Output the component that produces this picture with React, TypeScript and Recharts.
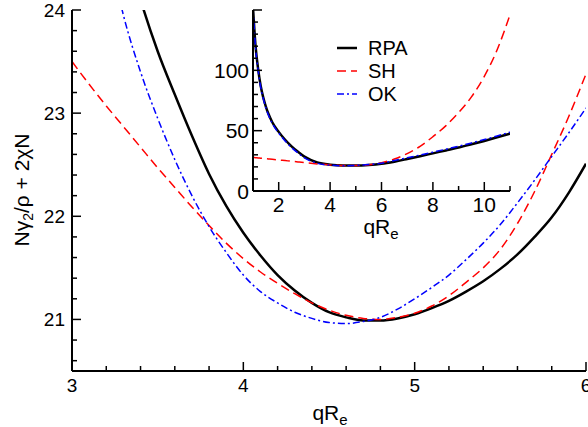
import React from "react";
import { LineChart, Line, XAxis, YAxis, CartesianGrid, Legend } from "recharts";

const FONT = "'Liberation Sans', Arial, Helvetica, sans-serif";

// main panel, qRe from 3 to 6
const qMain = [3.0, 3.1, 3.2, 3.3, 3.4, 3.5, 3.6, 3.7, 3.8, 3.9, 4.0, 4.1, 4.2, 4.3, 4.4, 4.5, 4.6, 4.7, 4.8, 4.9, 5.0, 5.1, 5.2, 5.3, 5.4, 5.5, 5.6, 5.7, 5.8, 5.9, 6.0];
const rpaMain = [27.5, 26.4, 25.45, 24.7, 24.1, 23.6, 23.18, 22.78, 22.41, 22.1, 21.84, 21.62, 21.43, 21.28, 21.16, 21.07, 21.02, 20.99, 20.99, 21.01, 21.05, 21.11, 21.18, 21.27, 21.37, 21.49, 21.63, 21.8, 21.99, 22.23, 22.51];
const shMain = [23.5, 23.28, 23.07, 22.87, 22.67, 22.47, 22.28, 22.09, 21.91, 21.74, 21.59, 21.46, 21.35, 21.25, 21.16, 21.09, 21.04, 21.01, 21.0, 21.02, 21.06, 21.13, 21.23, 21.36, 21.5, 21.68, 21.93, 22.24, 22.6, 22.97, 23.38];
const okMain = [26.6, 25.6, 24.7, 23.95, 23.4, 22.95, 22.55, 22.2, 21.9, 21.65, 21.43, 21.27, 21.16, 21.07, 21.01, 20.97, 20.96, 20.98, 21.02, 21.1, 21.2, 21.31, 21.43, 21.58, 21.74, 21.92, 22.13, 22.35, 22.58, 22.81, 23.05];

const mainXTicks = [3, 3.2, 3.4, 3.6, 3.8, 4, 4.2, 4.4, 4.6, 4.8, 5, 5.2, 5.4, 5.6, 5.8, 6];
const mainXLabels = [3, 4, 5, 6];
const mainYTicks = [20.6, 20.8, 21, 21.2, 21.4, 21.6, 21.8, 22, 22.2, 22.4, 22.6, 22.8, 23, 23.2, 23.4, 23.6, 23.8, 24];
const mainYLabels = [21, 22, 23, 24];

// inset, qRe from 1 to 11
const qInset = [1, 1.1, 1.2, 1.3, 1.4, 1.5, 1.6, 1.75, 2, 2.25, 2.5, 2.75, 3, 3.5, 4, 4.5, 5, 5.5, 6, 6.5, 7, 7.5, 8, 8.5, 9, 9.5, 10, 10.5, 11];
const rpaInset = [152, 120, 101, 87, 77.5, 70, 64, 57, 49, 42.5, 37, 32.5, 28.5, 23.7, 21.8, 21.1, 21.05, 21.5, 22.5, 24.3, 26.5, 28.8, 31.2, 33.6, 36, 38.7, 41.5, 44.5, 47.5];
const shInset = [27.8, 27.6, 27.4, 27.2, 27.0, 26.8, 26.6, 26.3, 25.75, 25.2, 24.65, 24.08, 23.5, 22.47, 21.59, 21.09, 21.06, 21.68, 23.38, 26.5, 31, 37, 45, 54, 65, 78, 95, 117, 146];
const okInset = [152, 119, 100, 86, 76.5, 69, 63, 56, 48, 41.5, 36, 31.5, 27.5, 23, 21.4, 20.97, 21.2, 21.9, 23.05, 25.2, 27.5, 29.8, 32.2, 34.6, 37.1, 39.8, 42.6, 45.6, 48.8];

const insetXTicks = [1, 2, 3, 4, 5, 6, 7, 8, 9, 10, 11];
const insetXLabels = [2, 4, 6, 8, 10];
const insetYTicks = [0, 10, 20, 30, 40, 50, 60, 70, 80, 90, 100, 110, 120, 130, 140, 150];
const insetYMajor = [0, 50, 100, 150];
const insetYLabels = [0, 50, 100];

const mainData = qMain.map((q, i) => ({ q, rpa: rpaMain[i], sh: shMain[i], ok: okMain[i] }));
const insetData = qInset.map((q, i) => ({ q, rpa: rpaInset[i], sh: shInset[i], ok: okInset[i] }));

const has = (arr: number[], v: number) => arr.some((a) => Math.abs(a - v) < 1e-6);

function makeTick(side: string, major: number[], labels: number[], fontSize: number, gap: number) {
  return (props: any) => {
    const { x, y, payload } = props;
    const v = payload.value as number;
    const len = has(major, v) ? 9 : 5;
    const lab = has(labels, v) ? String(v) : null;
    const cap = fontSize * 0.716;
    const ts = { fill: "#000", fontSize, fontFamily: FONT };
    let line: any = null;
    let text: any = null;
    if (side === "bottom") {
      line = <line x1={x} y1={y} x2={x} y2={y - len} />;
      if (lab) text = <text x={x} y={y + gap + cap} textAnchor="middle" style={ts}>{lab}</text>;
    } else if (side === "top") {
      line = <line x1={x} y1={y} x2={x} y2={y + len} />;
    } else if (side === "left") {
      line = <line x1={x} y1={y} x2={x + len} y2={y} />;
      if (lab) text = <text x={x - gap} y={y + cap / 2} textAnchor="end" style={ts}>{lab}</text>;
    } else {
      line = <line x1={x} y1={y} x2={x - len} y2={y} />;
    }
    return (
      <g stroke="#000" strokeWidth={1.5}>
        {line}
        <g stroke="none">{text}</g>
      </g>
    );
  };
}

const frame = { stroke: "#000", strokeWidth: 2 };

const legendRows = [
  { name: "RPA", color: "#000", dash: undefined, width: 2.5 },
  { name: "SH", color: "#ff0000", dash: "9 5", width: 1.5 },
  { name: "OK", color: "#0000ff", dash: "7 3 2 3", width: 1.5 },
];

const renderLegend = () => (
  <svg width={130} height={80} style={{ overflow: "visible" }}>
    {legendRows.map((r, i) => {
      const cy = 16 + i * 23;
      return (
        <g key={r.name}>
          <line x1={7} x2={27} y1={cy} y2={cy} stroke={r.color} strokeWidth={r.width} strokeDasharray={r.dash} />
          <text x={38} y={cy + 7} style={{ fontSize: 20, fontFamily: FONT, fill: "#000" }}>{r.name}</text>
        </g>
      );
    })}
  </svg>
);

export default function App() {
  return (
    <div style={{ position: "absolute", left: 0, top: 0, width: 588, height: 427, background: "#fff", fontFamily: FONT }}>
      <div style={{ position: "absolute", left: 0, top: 0 }}>
        <LineChart width={588} height={427} data={mainData} margin={{ top: 10, right: 2, bottom: 0, left: 0 }}>
          <XAxis dataKey="q" type="number" domain={[3, 6]} ticks={mainXTicks} interval={0} allowDataOverflow height={56}
            tickSize={0} tickMargin={0} tickLine={false} axisLine={frame} tick={makeTick("bottom", mainXLabels, mainXLabels, 19, 7)} />
          <XAxis xAxisId="t" orientation="top" dataKey="q" type="number" domain={[3, 6]} height={0} tick={false} tickLine={false} axisLine={frame} />
          <YAxis type="number" domain={[20.5, 24]} ticks={mainYTicks} interval={0} allowDataOverflow width={72}
            tickSize={0} tickMargin={0} tickLine={false} axisLine={frame} tick={makeTick("left", mainYLabels, mainYLabels, 19, 7)} />
          <YAxis yAxisId="r" orientation="right" type="number" domain={[20.5, 24]} ticks={mainYTicks} interval={0} allowDataOverflow width={0}
            tickSize={0} tickMargin={0} tickLine={false} axisLine={frame} tick={makeTick("right", mainYLabels, [], 19, 7)} />
          <Line dataKey="rpa" type="monotone" stroke="#000" strokeWidth={2.5} dot={false} isAnimationActive={false} />
          <Line dataKey="sh" type="monotone" stroke="#ff0000" strokeWidth={1.5} strokeDasharray="9 5" dot={false} isAnimationActive={false} />
          <Line dataKey="ok" type="monotone" stroke="#0000ff" strokeWidth={1.5} strokeDasharray="7 3 2 3" dot={false} isAnimationActive={false} />
        </LineChart>
      </div>

      <div style={{ position: "absolute", left: 200, top: 0 }}>
        <LineChart width={320} height={250} data={insetData} margin={{ top: 10, right: 10, bottom: 0, left: 0 }}>
          <CartesianGrid horizontal={false} vertical={false} fill="#fff" />
          <XAxis dataKey="q" type="number" domain={[1, 11]} ticks={insetXTicks} interval={0} allowDataOverflow height={59}
            tickSize={0} tickMargin={0} tickLine={false} axisLine={frame} tick={makeTick("bottom", insetXLabels, insetXLabels, 21, 6)} />
          <XAxis xAxisId="t" orientation="top" dataKey="q" type="number" domain={[1, 11]} ticks={insetXTicks} interval={0} height={0}
            tickSize={0} tickMargin={0} tickLine={false} axisLine={frame} tick={makeTick("top", insetXLabels, [], 21, 7)} />
          <YAxis type="number" domain={[0, 150]} ticks={insetYTicks} interval={0} allowDataOverflow width={53}
            tickSize={0} tickMargin={0} tickLine={false} axisLine={frame} tick={makeTick("left", insetYMajor, insetYLabels, 21, 4)} />
          <YAxis yAxisId="r" orientation="right" type="number" domain={[0, 150]} ticks={insetYTicks} interval={0} allowDataOverflow width={0}
            tickSize={0} tickMargin={0} tickLine={false} axisLine={frame} tick={makeTick("right", insetYMajor, [], 21, 4)} />
          <Legend verticalAlign="middle" align="center" layout="horizontal" content={renderLegend}
            wrapperStyle={{ left: 130, top: 32, width: 130, height: 80 }} />
          <Line dataKey="rpa" type="monotone" stroke="#000" strokeWidth={2.5} dot={false} isAnimationActive={false} />
          <Line dataKey="sh" type="monotone" stroke="#ff0000" strokeWidth={1.5} strokeDasharray="9 5" dot={false} isAnimationActive={false} />
          <Line dataKey="ok" type="monotone" stroke="#0000ff" strokeWidth={1.5} strokeDasharray="7 3 2 3" dot={false} isAnimationActive={false} />
        </LineChart>
      </div>

      <svg width={588} height={427} style={{ position: "absolute", left: 0, top: 0, pointerEvents: "none" }}>
        <text transform="rotate(-90, 29, 190)" x={29} y={190} textAnchor="middle" style={{ fontSize: 21, fontFamily: FONT, fill: "#000" }}>
          Nγ<tspan fontSize={14} dy={4}>2</tspan><tspan dy={-4}>/ρ + 2χN</tspan>
        </text>
        <text x={330} y={420} textAnchor="middle" style={{ fontSize: 21, fontFamily: FONT, fill: "#000" }}>
          qR<tspan fontSize={15} dy={5}>e</tspan>
        </text>
        <text x={381} y={234} textAnchor="middle" style={{ fontSize: 21, fontFamily: FONT, fill: "#000" }}>
          qR<tspan fontSize={15} dy={5}>e</tspan>
        </text>
      </svg>
    </div>
  );
}
